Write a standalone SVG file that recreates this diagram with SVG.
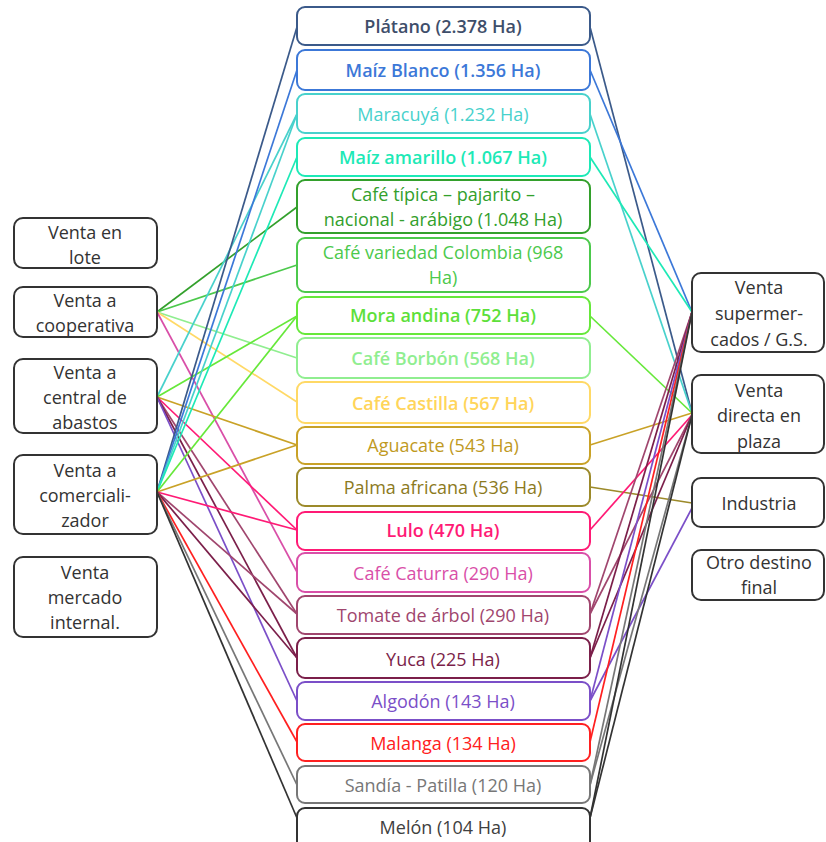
<svg xmlns="http://www.w3.org/2000/svg" width="826" height="842" viewBox="0 0 826 842">
<style>
text{font-family:"Open Sans","Noto Sans","Liberation Sans",sans-serif;font-size:18px;text-anchor:middle;dominant-baseline:central}
.k{fill:#333}
.n rect{fill:#fff;stroke-width:2}
.side rect{fill:#fff;stroke:#333;stroke-width:2}
.b{font-weight:600}
#conn line{stroke-width:1.7;fill:none}
</style>
<rect width="826" height="842" fill="#fff"/>
<g id="conn">
<!-- left side -->
<line x1="157" y1="312" x2="297" y2="207" stroke="#33A02C"/>
<line x1="157" y1="312" x2="297" y2="265" stroke="#4CC94C"/>
<line x1="157" y1="312" x2="297" y2="358" stroke="#90EE90"/>
<line x1="157" y1="312" x2="297" y2="402" stroke="#FFD966"/>
<line x1="157" y1="312" x2="297" y2="572" stroke="#D94FA8"/>
<line x1="157" y1="397" x2="297" y2="114" stroke="#48D1CC"/>
<line x1="157" y1="397" x2="297" y2="316" stroke="#66E83A"/>
<line x1="157" y1="397" x2="297" y2="445" stroke="#C9A227"/>
<line x1="157" y1="397" x2="297" y2="530" stroke="#FF1A75"/>
<line x1="157" y1="397" x2="297" y2="614" stroke="#A0466E"/>
<line x1="157" y1="397" x2="297" y2="658" stroke="#7B1F4A"/>
<line x1="157" y1="397" x2="297" y2="701" stroke="#7B4FC8"/>
<line x1="157" y1="492" x2="297" y2="27" stroke="#3B5A8A"/>
<line x1="157" y1="492" x2="297" y2="70" stroke="#3C78D8"/>
<line x1="157" y1="492" x2="297" y2="114" stroke="#48D1CC"/>
<line x1="157" y1="492" x2="297" y2="157" stroke="#1DE9B6"/>
<line x1="157" y1="492" x2="297" y2="316" stroke="#66E83A"/>
<line x1="157" y1="492" x2="297" y2="445" stroke="#C9A227"/>
<line x1="157" y1="492" x2="297" y2="530" stroke="#FF1A75"/>
<line x1="157" y1="492" x2="297" y2="614" stroke="#A0466E"/>
<line x1="157" y1="492" x2="297" y2="658" stroke="#7B1F4A"/>
<line x1="157" y1="492" x2="297" y2="742" stroke="#FF2020"/>
<line x1="157" y1="492" x2="297" y2="785" stroke="#777"/>
<line x1="157" y1="492" x2="297" y2="818" stroke="#333"/>
<!-- right side -->
<line x1="590" y1="27" x2="692" y2="413" stroke="#3B5A8A"/>
<line x1="590" y1="70" x2="692" y2="312" stroke="#3C78D8"/>
<line x1="590" y1="114" x2="692" y2="413" stroke="#48D1CC"/>
<line x1="590" y1="157" x2="692" y2="312" stroke="#1DE9B6"/>
<line x1="590" y1="316" x2="692" y2="413" stroke="#66E83A"/>
<line x1="590" y1="445" x2="692" y2="413" stroke="#C9A227"/>
<line x1="590" y1="487" x2="692" y2="503" stroke="#9C8A2A"/>
<line x1="590" y1="530" x2="692" y2="415" stroke="#FF1A75"/>
<line x1="590" y1="614" x2="692" y2="312" stroke="#A0466E"/>
<line x1="590" y1="614" x2="692" y2="415" stroke="#A0466E"/>
<line x1="590" y1="658" x2="692" y2="312" stroke="#7B1F4A"/>
<line x1="590" y1="658" x2="692" y2="415" stroke="#7B1F4A"/>
<line x1="590" y1="701" x2="692" y2="312" stroke="#7B4FC8"/>
<line x1="590" y1="701" x2="692" y2="508" stroke="#7B4FC8"/>
<line x1="590" y1="742" x2="692" y2="312" stroke="#FF2020"/>
<line x1="590" y1="785" x2="692" y2="312" stroke="#777"/>
<line x1="590" y1="785" x2="692" y2="415" stroke="#777"/>
<line x1="590" y1="818" x2="692" y2="312" stroke="#333"/>
<line x1="590" y1="818" x2="692" y2="415" stroke="#333"/>
</g>
<!-- left nodes -->
<g id="lote" class="side"><rect x="14" y="218" width="143" height="50" rx="9"/><text class="k" x="85" y="232">Venta en</text><text class="k" x="85" y="257">lote</text></g>
<g id="cooperativa" class="side"><rect x="14" y="287" width="143" height="50" rx="9"/><text class="k" x="85" y="300">Venta a</text><text class="k" x="85" y="325">cooperativa</text></g>
<g id="central" class="side"><rect x="14" y="359" width="143" height="74" rx="9"/><text class="k" x="85" y="372">Venta a</text><text class="k" x="85" y="397">central de</text><text class="k" x="85" y="422">abastos</text></g>
<g id="comercializador" class="side"><rect x="14" y="455" width="143" height="79" rx="9"/><text class="k" x="85" y="470">Venta a</text><text class="k" x="85" y="495">comerciali-</text><text class="k" x="85" y="520">zador</text></g>
<g id="internal" class="side"><rect x="14" y="557" width="143" height="80" rx="9"/><text class="k" x="85" y="572">Venta</text><text class="k" x="85" y="597">mercado</text><text class="k" x="85" y="622">internal.</text></g>
<!-- center nodes -->
<g id="platano" class="n"><rect x="297" y="7" width="293" height="38" rx="8" stroke="#3B5A8A"/><text class="b" x="443" y="26" fill="#3E4E6A">Plátano (2.378 Ha)</text></g>
<g id="maizblanco" class="n"><rect x="297" y="50" width="293" height="40" rx="8" stroke="#3C78D8"/><text class="b" x="443" y="70" fill="#3C78D8">Maíz Blanco (1.356 Ha)</text></g>
<g id="maracuya" class="n"><rect x="297" y="94" width="293" height="39" rx="8" stroke="#48D1CC"/><text x="443" y="114" fill="#48D1CC">Maracuyá (1.232 Ha)</text></g>
<g id="maizamarillo" class="n"><rect x="297" y="138" width="293" height="38" rx="8" stroke="#1DE9B6"/><text class="b" x="443" y="157" fill="#1DE9B6">Maíz amarillo (1.067 Ha)</text></g>
<g id="cafetipica" class="n"><rect x="297" y="180" width="293" height="53" rx="8" stroke="#33A02C"/><text x="443" y="194" fill="#33A02C">Café típica – pajarito –</text><text x="443" y="219" fill="#33A02C">nacional - arábigo (1.048 Ha)</text></g>
<g id="cafecolombia" class="n"><rect x="297" y="238" width="293" height="54" rx="8" stroke="#4CC94C"/><text x="443" y="252" fill="#4CC94C">Café variedad Colombia (968</text><text x="443" y="277" fill="#4CC94C">Ha)</text></g>
<g id="mora" class="n"><rect x="297" y="297" width="293" height="37" rx="8" stroke="#66E83A"/><text class="b" x="443" y="315" fill="#5DE03A">Mora andina (752 Ha)</text></g>
<g id="borbon" class="n"><rect x="297" y="338" width="293" height="40" rx="8" stroke="#90EE90"/><text class="b" x="443" y="358" fill="#90EE90">Café Borbón (568 Ha)</text></g>
<g id="castilla" class="n"><rect x="297" y="382" width="293" height="41" rx="8" stroke="#FFD966"/><text class="b" x="443" y="403" fill="#FFD55A">Café Castilla (567 Ha)</text></g>
<g id="aguacate" class="n"><rect x="297" y="427" width="293" height="37" rx="8" stroke="#C9A227"/><text x="443" y="445" fill="#BF9A1F">Aguacate (543 Ha)</text></g>
<g id="palma" class="n"><rect x="297" y="468" width="293" height="38" rx="8" stroke="#9C8A2A"/><text x="443" y="487" fill="#8C7A1E">Palma africana (536 Ha)</text></g>
<g id="lulo" class="n"><rect x="297" y="512" width="293" height="38" rx="8" stroke="#FF1A75"/><text class="b" x="443" y="530" fill="#FF1A75">Lulo (470 Ha)</text></g>
<g id="caturra" class="n"><rect x="297" y="553" width="293" height="39" rx="8" stroke="#D94FA8"/><text x="443" y="573" fill="#D94FA8">Café Caturra (290 Ha)</text></g>
<g id="tomate" class="n"><rect x="297" y="596" width="293" height="38" rx="8" stroke="#A0466E"/><text x="443" y="615" fill="#A0466E">Tomate de árbol (290 Ha)</text></g>
<g id="yuca" class="n"><rect x="297" y="638" width="293" height="40" rx="8" stroke="#7B1F4A"/><text x="443" y="659" fill="#7B1F4A">Yuca (225 Ha)</text></g>
<g id="algodon" class="n"><rect x="297" y="682" width="293" height="38" rx="8" stroke="#7B4FC8"/><text x="443" y="701" fill="#7B4FC8">Algodón (143 Ha)</text></g>
<g id="malanga" class="n"><rect x="297" y="724" width="293" height="37" rx="8" stroke="#FF2020"/><text x="443" y="743" fill="#FF2020">Malanga (134 Ha)</text></g>
<g id="sandia" class="n"><rect x="297" y="766" width="293" height="37" rx="8" stroke="#777"/><text x="443" y="785" fill="#777">Sandía - Patilla (120 Ha)</text></g>
<g id="melon" class="n"><rect x="297" y="808" width="293" height="44" rx="8" stroke="#333"/><text x="443" y="827" fill="#404040">Melón (104 Ha)</text></g>
<!-- right nodes -->
<g id="supermercados" class="side"><rect x="692" y="273" width="132" height="79" rx="9"/><text class="k" x="759" y="287">Venta</text><text class="k" x="759" y="313">supermer-</text><text class="k" x="759" y="339">cados / G.S.</text></g>
<g id="plaza" class="side"><rect x="692" y="375" width="132" height="78" rx="9"/><text class="k" x="759" y="390">Venta</text><text class="k" x="759" y="415">directa en</text><text class="k" x="759" y="441">plaza</text></g>
<g id="industria" class="side"><rect x="692" y="478" width="132" height="49" rx="9"/><text class="k" x="759" y="503">Industria</text></g>
<g id="otro" class="side"><rect x="692" y="550" width="132" height="50" rx="9"/><text class="k" x="759" y="562">Otro destino</text><text class="k" x="759" y="587">final</text></g>
</svg>
